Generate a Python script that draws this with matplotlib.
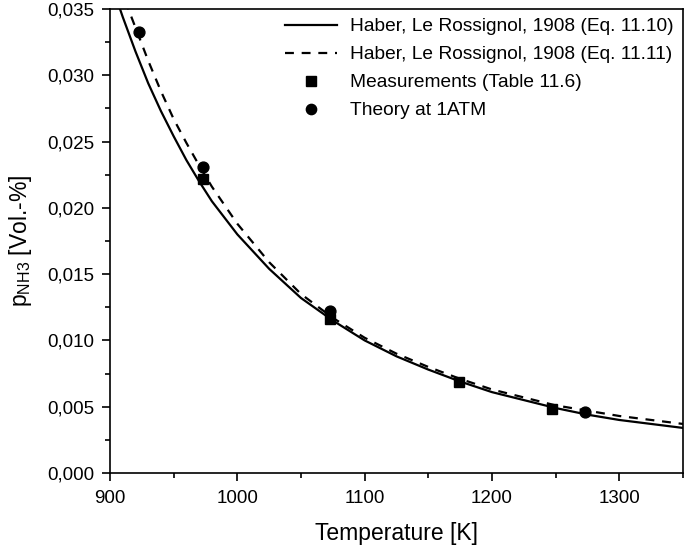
import matplotlib
matplotlib.use("Agg")
import matplotlib.pyplot as plt
from matplotlib.ticker import MultipleLocator, FuncFormatter

plt.rcParams['font.family'] = ['Liberation Sans', 'DejaVu Sans']
plt.rcParams['mathtext.fontset'] = 'custom'
plt.rcParams['mathtext.rm'] = 'Liberation Sans'

# Eq. 11.10 (solid)
T_eq1010 = [905, 910, 920, 930, 940, 950, 960, 970, 980, 1000, 1025, 1050, 1075,
            1100, 1125, 1150, 1175, 1200, 1225, 1250, 1275, 1300, 1325, 1350]
p_eq1010 = [0.0358, 0.0344, 0.0318, 0.0294, 0.0273, 0.0254, 0.0236, 0.0220,
            0.0205, 0.0180, 0.0154, 0.0132, 0.0115, 0.0100, 0.0088, 0.0078,
            0.0069, 0.0061, 0.0055, 0.0049, 0.0044, 0.0040, 0.0037, 0.0034]

# Eq. 11.11 (dashed)
T_eq1011 = [912, 920, 930, 940, 950, 960, 970, 980, 1000, 1025, 1050, 1075,
            1100, 1125, 1150, 1175, 1200, 1225, 1250, 1275, 1300, 1325, 1350]
p_eq1011 = [0.0356, 0.0336, 0.0311, 0.0288, 0.0267, 0.0249, 0.0232, 0.0216,
            0.0188, 0.0159, 0.0135, 0.0117, 0.0102, 0.0090, 0.0080, 0.0071,
            0.0063, 0.0057, 0.0051, 0.0047, 0.0043, 0.0040, 0.0037]

# Measurements (Table 11.6)
T_meas = [973, 1073, 1174, 1247]
p_meas = [0.0222, 0.0116, 0.0069, 0.0048]

# Theory at 1 ATM
T_theo = [923, 973, 1073, 1273]
p_theo = [0.0333, 0.0231, 0.0122, 0.0046]

fig = plt.figure(figsize=(6.85, 5.48), dpi=100)
ax = fig.add_axes([110/685, 1 - 473/548, 573/685, 464/548])

ax.plot(T_eq1010, p_eq1010, color='black', lw=1.6, ls='-',
        label='Haber, Le Rossignol, 1908 (Eq. 11.10)')
ax.plot(T_eq1011, p_eq1011, color='black', lw=1.6, ls=(0, (4, 3.5)),
        label='Haber, Le Rossignol, 1908 (Eq. 11.11)')
ax.plot(T_meas, p_meas, ls='none', marker='s', ms=7.2, color='black',
        label='Measurements (Table 11.6)')
ax.plot(T_theo, p_theo, ls='none', marker='o', ms=7.8, color='black',
        label='Theory at 1ATM')

ax.set_xlim(900, 1350)
ax.set_ylim(0, 0.035)
ax.xaxis.set_major_locator(MultipleLocator(100))
ax.xaxis.set_minor_locator(MultipleLocator(50))
ax.yaxis.set_major_locator(MultipleLocator(0.005))
ax.yaxis.set_minor_locator(MultipleLocator(0.0025))
ax.yaxis.set_major_formatter(FuncFormatter(lambda v, p: f"{v:.3f}".replace('.', ',')))

ax.tick_params(which='major', direction='out', length=6, width=1.2, labelsize=13.5,
               colors='black')
ax.tick_params(axis='y', which='major', pad=5)
ax.tick_params(axis='x', which='major', pad=6)
ax.tick_params(which='minor', direction='out', length=3.5, width=1.2)
for s in ax.spines.values():
    s.set_linewidth(1.2)
    s.set_color('black')

ax.set_xlabel('Temperature [K]', fontsize=16.5, labelpad=11)
ax.set_ylabel(r'p$_{\mathrm{NH3}}$ [Vol.-%]', fontsize=16.5, labelpad=10)

leg = ax.legend(loc='upper left', bbox_to_anchor=(175/573, 1 - 9/464),
                fontsize=13.8, frameon=False, borderaxespad=0.0, borderpad=0.0,
                handlelength=2.7, labelspacing=0.55, handletextpad=0.7,
                markerscale=0.95)

fig.savefig('out.png', dpi=100)
